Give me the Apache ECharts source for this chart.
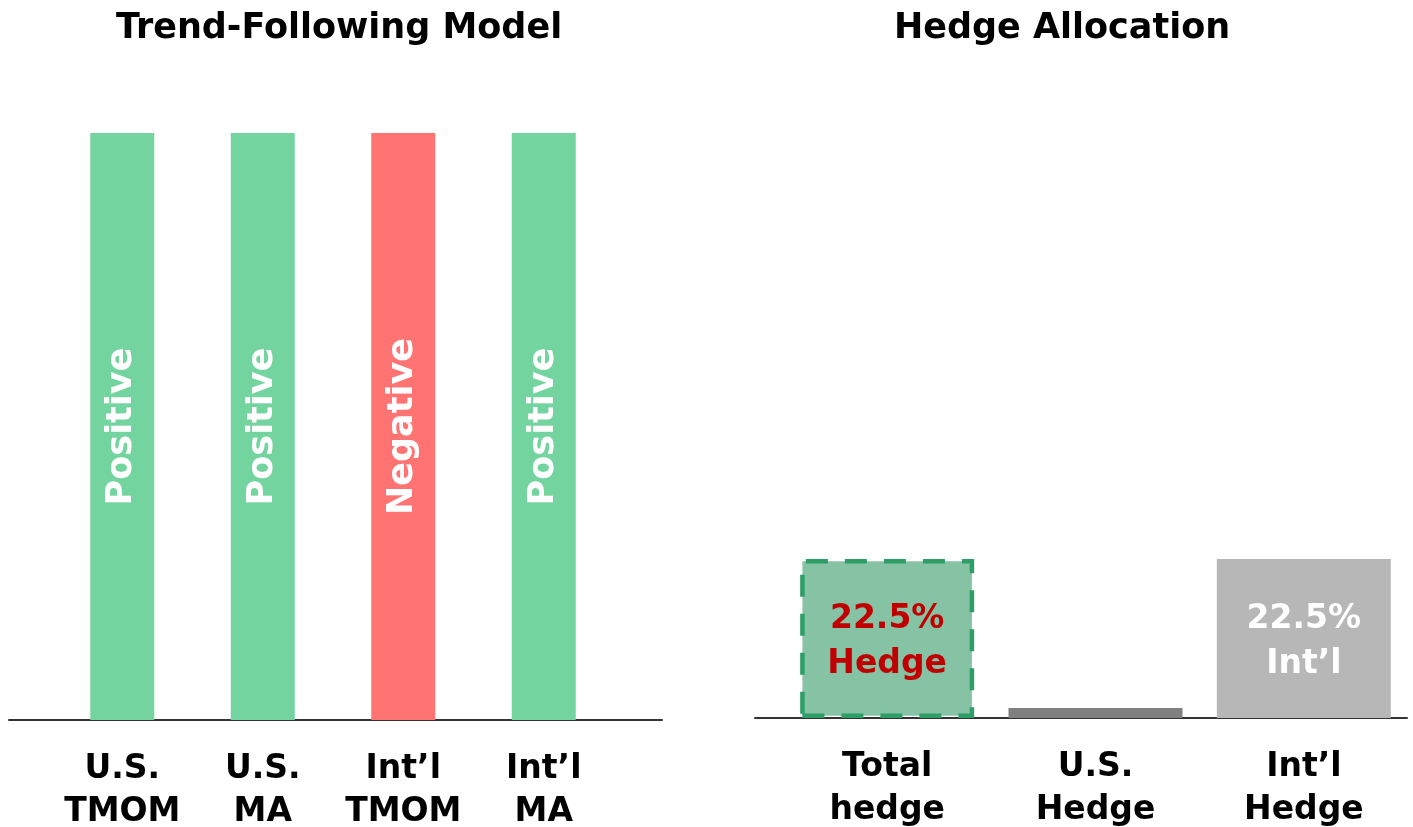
<!DOCTYPE html>
<html>
<head>
<meta charset="utf-8">
<script src="https://cdn.jsdelivr.net/npm/echarts@6/dist/echarts.min.js"></script>
<style>html,body{margin:0;padding:0;background:#fff;}#c{width:1413px;height:827px;}</style>
</head>
<body>
<div id="c"></div>
<script>
const trendCategories = ['U.S.\nTMOM', 'U.S.\nMA', 'Int\u2019l\nTMOM', 'Int\u2019l\nMA'];
const trendValues = [1, 1, 1, 1];
const trendSignals = ['Positive', 'Positive', 'Negative', 'Positive'];
const hedgeCategories = ['Total\nhedge', 'U.S.\nHedge', 'Int\u2019l\nHedge'];
const hedgeValues = [22.5, 0, 22.5];
const hedgeLabels = ['22.5%\nHedge', '', '22.5%\nInt\u2019l'];

const FONT = 'DejaVu Sans';
const signalColor = { Positive: '#74d4a0', Negative: '#ff7373' };
const hedgeStyles = [
  { color: '#86c3a5', borderColor: '#2e9e66', borderWidth: 4.5, borderType: [22, 17] },
  { color: '#808080' },
  { color: '#b7b7b7' }
];
const hedgeLabelColors = ['#c00000', '#ffffff', '#ffffff'];

const chart = echarts.init(document.getElementById('c'));
const catLabel = { fontFamily: FONT, fontWeight: 'bold', fontSize: 33, lineHeight: 43, color: '#000', margin: 28, interval: 0 };
const g = (o) => Object.assign({ outerBoundsMode: 'none', containLabel: false }, o);
chart.setOption({
  animation: false,
  backgroundColor: '#fff',
  title: [
    { text: 'Trend-Following Model', left: 334, top: 6, textAlign: 'center',
      textStyle: { fontFamily: FONT, fontWeight: 'bold', fontSize: 35, color: '#000' } },
    { text: 'Hedge Allocation', left: 1057, top: 6, textAlign: 'center',
      textStyle: { fontFamily: FONT, fontWeight: 'bold', fontSize: 35, color: '#000' } }
  ],
  grid: [
    g({ left: 52, width: 562, top: 133, height: 587 }),
    g({ left: 783, width: 625, top: 559, height: 159 }),
    g({ left: 9, width: 653, top: 700, height: 20 }),
    g({ left: 755, width: 652, top: 698, height: 20 })
  ],
  xAxis: [
    { type: 'category', gridIndex: 0, data: trendCategories, axisLine: { show: false }, axisTick: { show: false }, axisLabel: catLabel },
    { type: 'category', gridIndex: 1, data: hedgeCategories, axisLine: { show: false }, axisTick: { show: false }, axisLabel: catLabel },
    { type: 'value', gridIndex: 2, min: 0, max: 1, axisLine: { show: true, lineStyle: { color: '#333', width: 2 } }, axisTick: { show: false }, axisLabel: { show: false }, splitLine: { show: false } },
    { type: 'value', gridIndex: 3, min: 0, max: 1, axisLine: { show: true, lineStyle: { color: '#333', width: 2 } }, axisTick: { show: false }, axisLabel: { show: false }, splitLine: { show: false } }
  ],
  yAxis: [
    { type: 'value', gridIndex: 0, min: 0, max: 1, show: false },
    { type: 'value', gridIndex: 1, min: 0, max: 22.5, show: false },
    { type: 'value', gridIndex: 2, min: 0, max: 1, show: false },
    { type: 'value', gridIndex: 3, min: 0, max: 1, show: false }
  ],
  series: [
    {
      type: 'bar', xAxisIndex: 0, yAxisIndex: 0, barWidth: 64,
      data: trendValues.map((v, i) => ({
        value: v,
        itemStyle: { color: signalColor[trendSignals[i]] },
        label: { show: true, formatter: trendSignals[i] }
      })),
      label: { show: true, position: 'inside', rotate: 90, color: '#fff', fontFamily: FONT, fontWeight: 'bold', fontSize: 35 }
    },
    {
      type: 'bar', xAxisIndex: 1, yAxisIndex: 1, barWidth: 174, barMinHeight: 10,
      data: hedgeValues.map((v, i) => ({
        value: v,
        itemStyle: hedgeStyles[i],
        label: { show: hedgeLabels[i] !== '', formatter: hedgeLabels[i], color: hedgeLabelColors[i] }
      })),
      label: { position: 'inside', offset: [0, 3.5], fontFamily: FONT, fontWeight: 'bold', fontSize: 33, lineHeight: 45 }
    }
  ]
});
</script>
</body>
</html>
